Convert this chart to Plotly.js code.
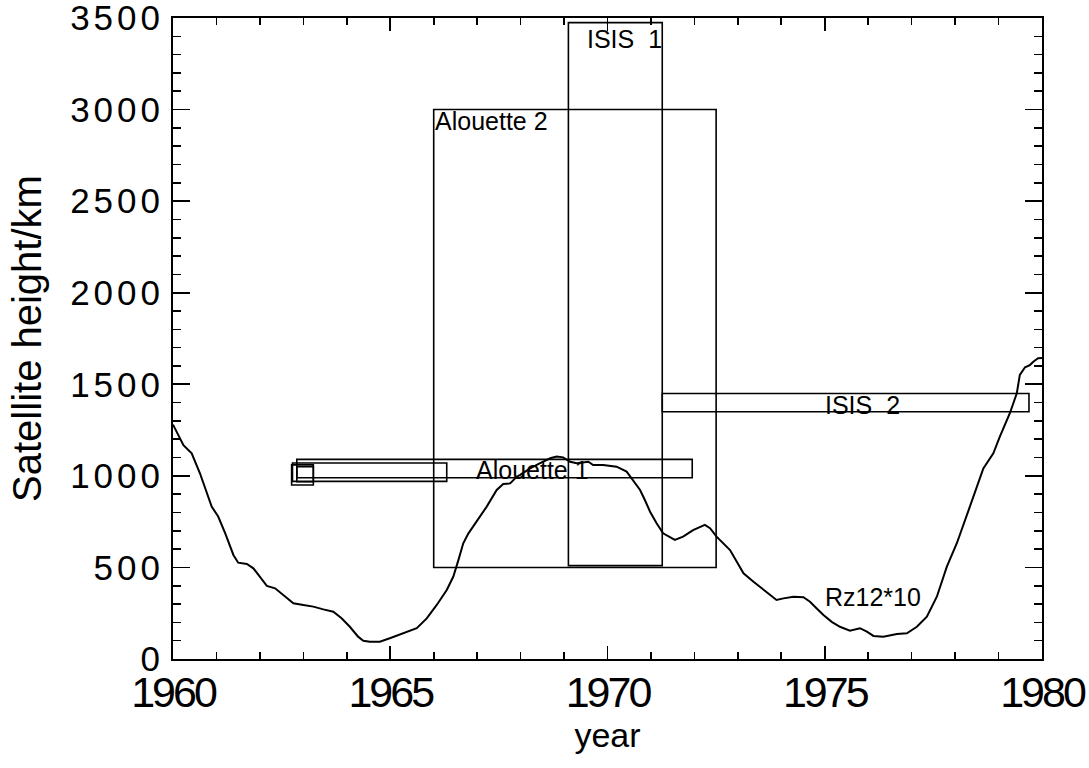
<!DOCTYPE html>
<html>
<head>
<meta charset="utf-8">
<script src="https://cdn.plot.ly/plotly-3.0.1.min.js"></script>
<style>
html,body{margin:0;padding:0;background:#fff;}
#chart{width:1089px;height:768px;}
.ytick text{letter-spacing:4px;}
.xtick text{letter-spacing:-3px;}
</style>
</head>
<body>
<div id="chart"></div>
<script>
// Smoothed sunspot number Rz12 * 10
const rzYear = [1960.0,1960.24,1960.43,1960.62,1960.89,1961.04,1961.20,1961.39,1961.50,1961.70,1961.85,1962.00,1962.16,1962.35,1962.54,1962.77,1963.00,1963.23,1963.46,1963.69,1963.88,1964.07,1964.26,1964.38,1964.53,1964.76,1964.99,1965.30,1965.61,1965.84,1966.07,1966.30,1966.45,1966.57,1966.68,1966.80,1966.99,1967.22,1967.45,1967.60,1967.76,1967.91,1967.99,1968.22,1968.45,1968.68,1968.83,1968.98,1969.14,1969.29,1969.56,1969.67,1969.90,1970.21,1970.44,1970.59,1970.75,1970.86,1970.98,1971.13,1971.28,1971.55,1971.74,1971.97,1972.24,1972.36,1972.51,1972.82,1972.97,1973.13,1973.36,1973.66,1973.89,1974.05,1974.28,1974.51,1974.66,1974.81,1974.97,1975.16,1975.35,1975.58,1975.81,1975.97,1976.12,1976.35,1976.66,1976.89,1977.12,1977.35,1977.58,1977.81,1978.04,1978.34,1978.65,1978.88,1979.03,1979.26,1979.42,1979.49,1979.61,1979.72,1979.80,1979.91,1980.0];
const rzValue = [1280,1168,1123,1014,832,778,687,568,526,519,495,449,399,386,349,304,295,286,271,258,222,176,122,100,94,94,113,140,168,222,295,377,449,541,632,686,750,832,923,956,959,995,1005,1041,1069,1096,1105,1101,1077,1069,1077,1059,1059,1050,1023,977,923,868,804,741,686,650,668,704,732,714,668,595,531,468,422,367,322,331,340,337,313,277,240,203,176,155,168,149,126,122,137,140,176,231,340,504,632,832,1041,1123,1214,1342,1451,1551,1593,1605,1623,1642,1644];

// Satellite coverage boxes: year span and height span (km)
const boxStart = [1966.0, 1969.1, 1971.26, 1962.85, 1962.75, 1962.73, 1962.85];
const boxEnd   = [1972.5, 1971.26, 1979.7, 1971.95, 1966.3, 1963.23, 1963.23];
const boxLow   = [500, 510, 1350, 990, 970, 950, 968];
const boxHigh  = [3000, 3475, 1450, 1090, 1070, 1060, 1050];

// Labels
const labelText = ["ISIS  1", "Alouette 2", "Alouette 1", "ISIS  2", "Rz12*10"];
const labelYear = [1969.48, 1965.98, 1966.93, 1974.95, 1974.95];
const labelHeight = [3385, 2935, 1032, 1386, 337];

const xTickVals = [1960, 1965, 1970, 1975, 1980];
const yTickVals = [0, 500, 1000, 1500, 2000, 2500, 3000, 3500];

const shapes = boxStart.map((s, i) => ({
  type: 'rect', xref: 'x', yref: 'y',
  x0: s, x1: boxEnd[i], y0: boxLow[i], y1: boxHigh[i],
  line: {color: '#000', width: 1.6}, fillcolor: 'rgba(0,0,0,0)'
}));

const annotations = labelText.map((t, i) => ({
  text: t, x: labelYear[i], y: labelHeight[i], xref: 'x', yref: 'y',
  xanchor: 'left', yanchor: 'middle', showarrow: false,
  font: {family: 'Liberation Sans, Arial, sans-serif', size: 25, color: '#000'}
}));

const trace = {
  x: rzYear, y: rzValue, type: 'scatter', mode: 'lines',
  line: {color: '#000', width: 2}, hoverinfo: 'skip'
};

const layout = {
  width: 1089, height: 768,
  margin: {l: 173, r: 47, t: 18, b: 109},
  paper_bgcolor: '#fff', plot_bgcolor: '#fff',
  showlegend: false,
  shapes: shapes,
  annotations: annotations,
  xaxis: {
    range: [1960, 1980], tickvals: xTickVals, ticktext: xTickVals.map(String),
    ticks: 'inside', ticklen: 13, tickwidth: 1.6, tickcolor: '#000',
    minor: {dtick: 1, tick0: 1960, ticks: 'inside', ticklen: 7, tickwidth: 1.6, tickcolor: '#000', showgrid: false},
    showline: true, linewidth: 2, linecolor: '#000', mirror: 'ticks',
    showgrid: false, zeroline: false, ticklabeloverflow: 'allow', ticklabelstandoff: -6,
    tickfont: {family: 'Liberation Sans, Arial, sans-serif', size: 43, color: '#000'},
    title: {text: 'year', font: {family: 'Liberation Sans, Arial, sans-serif', size: 34, color: '#000'}, standoff: 2}
  },
  yaxis: {
    range: [0, 3500], tickvals: yTickVals, ticktext: yTickVals.map(String),
    ticks: 'inside', ticklen: 17, tickwidth: 1.6, tickcolor: '#000',
    minor: {dtick: 100, tick0: 0, ticks: 'inside', ticklen: 8, tickwidth: 1.6, tickcolor: '#000', showgrid: false},
    showline: true, linewidth: 2, linecolor: '#000', mirror: 'ticks',
    showgrid: false, zeroline: false, ticklabeloverflow: 'allow',
    tickfont: {family: 'Liberation Sans, Arial, sans-serif', size: 35, color: '#000'},
    title: {text: 'Satellite height/km', font: {family: 'Liberation Sans, Arial, sans-serif', size: 40, color: '#000'}, standoff: 16}
  }
};

Plotly.newPlot('chart', [trace], layout, {displayModeBar: false, staticPlot: true});
</script>
</body>
</html>
